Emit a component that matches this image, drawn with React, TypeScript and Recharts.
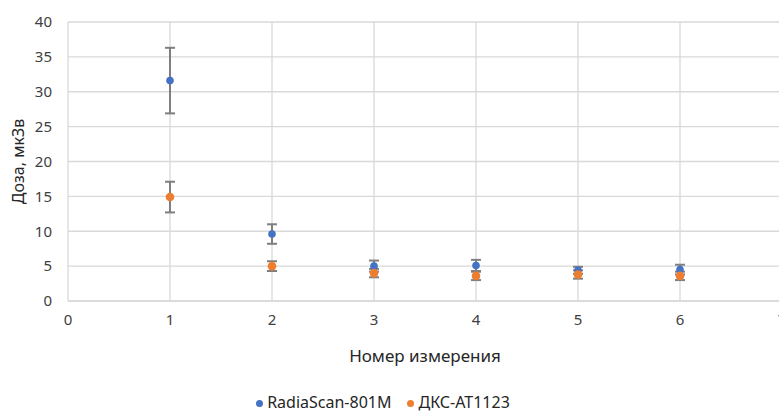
import { ScatterChart, Scatter, XAxis, YAxis, CartesianGrid, ErrorBar, Legend } from "recharts";

// Номер измерения
const measurements = [1, 2, 3, 4, 5, 6];

// RadiaScan-801M: доза и погрешность
const radiaScanDose = [31.6, 9.6, 5.0, 5.1, 4.4, 4.5];
const radiaScanErr = [4.7, 1.4, 0.8, 0.8, 0.5, 0.7];

// ДКС-АТ1123: доза и погрешность
const dksDose = [14.9, 5.0, 4.0, 3.6, 3.8, 3.6];
const dksErr = [2.2, 0.7, 0.6, 0.6, 0.6, 0.6];

const xTicks = [0, 1, 2, 3, 4, 5, 6, 7];
const yTicks = [0, 5, 10, 15, 20, 25, 30, 35, 40];

const radiaData = measurements.map((x, i) => ({ x, y: radiaScanDose[i], err: radiaScanErr[i] }));
const dksData = measurements.map((x, i) => ({ x, y: dksDose[i], err: dksErr[i] }));

const font = "'Noto Sans', 'Open Sans', sans-serif";
const textColor = "#404040";
const gridColor = "#d9d9d9";

export default function App() {
  return (
    <div style={{ position: "fixed", left: 0, top: 0, width: 779, height: 412, overflow: "hidden", background: "#fff" }}>
      <ScatterChart
        width={782}
        height={412}
        margin={{ top: 22, right: 0, bottom: 0, left: 0 }}
        style={{ fontFamily: font }}
      >
        <CartesianGrid stroke={gridColor} strokeWidth={1.3} />
        <XAxis
          type="number"
          dataKey="x"
          domain={[0, 7]}
          ticks={xTicks}
          interval={0}
          height={65}
          tickLine={false}
          tickSize={0}
          tickMargin={13}
          axisLine={{ stroke: gridColor, strokeWidth: 1.3 }}
          tick={{ fontSize: 15, fill: textColor }}
          label={{ value: "Номер измерения", position: "insideBottom", offset: 4, fontSize: 17, fill: "#262626" }}
        />
        <YAxis
          type="number"
          dataKey="y"
          domain={[0, 40]}
          ticks={yTicks}
          interval={0}
          width={68}
          axisLine={false}
          tickLine={false}
          tickSize={0}
          tickMargin={16}
          tick={{ fontSize: 15, fill: textColor }}
          label={{ value: "Доза, мкЗв", angle: -90, position: "insideLeft", offset: 18, fontSize: 16, fill: "#262626", style: { textAnchor: "middle" } }}
        />
        <Legend
          verticalAlign="bottom"
          align="center"
          iconType="circle"
          iconSize={7}
          wrapperStyle={{ height: 46, paddingTop: 28, boxSizing: "border-box", fontSize: 16, lineHeight: "16px", color: "#262626" }}
          formatter={(value: string) => <span style={{ color: "#262626", paddingRight: 6 }}>{value}</span>}
        />
        <Scatter name="RadiaScan-801M" data={radiaData} fill="#4472c4" isAnimationActive={false} shape={(p: any) => <circle cx={p.cx} cy={p.cy} r={3.8} fill="#4472c4" />}>
          <ErrorBar dataKey="err" direction="y" width={5} stroke="#7f7f7f" strokeWidth={2} />
        </Scatter>
        <Scatter name="ДКС-АТ1123" data={dksData} fill="#ed7d31" isAnimationActive={false} shape={(p: any) => <circle cx={p.cx} cy={p.cy} r={4.3} fill="#ed7d31" />}>
          <ErrorBar dataKey="err" direction="y" width={5} stroke="#7f7f7f" strokeWidth={2} />
        </Scatter>
      </ScatterChart>
    </div>
  );
}
